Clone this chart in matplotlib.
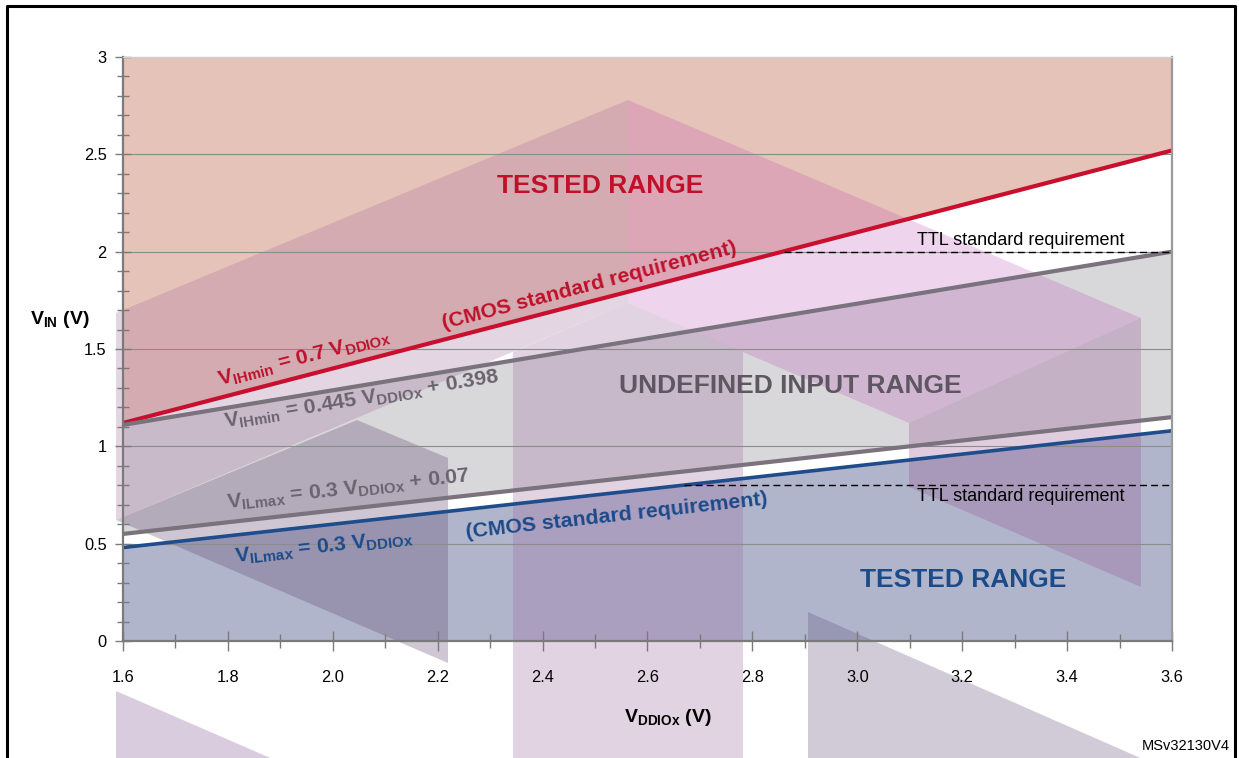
import matplotlib
matplotlib.use("Agg")
import matplotlib.pyplot as plt
from matplotlib.patches import Polygon
from matplotlib.lines import Line2D
import numpy as np

plt.rcParams['font.family'] = ['Liberation Sans', 'DejaVu Sans']
plt.rcParams['mathtext.fontset'] = 'custom'
plt.rcParams['mathtext.rm'] = 'Liberation Sans:bold'
plt.rcParams['mathtext.bf'] = 'Liberation Sans:bold'
plt.rcParams['mathtext.it'] = 'Liberation Sans:bold'

# VDDIOx range and the input threshold lines at both ends (V)
vdd = [1.6, 3.6]
vih_cmos = [1.12, 2.52]   # VIHmin = 0.7 VDDIOx
vih_io = [1.11, 2.00]     # VIHmin = 0.445 VDDIOx + 0.398
vil_io = [0.55, 1.15]     # VILmax = 0.3 VDDIOx + 0.07
vil_cmos = [0.48, 1.08]   # VILmax = 0.3 VDDIOx
ttl_levels = [2.0, 0.8]
ttl_start = [2.86, 2.67]

yticks = [0, 0.5, 1, 1.5, 2, 2.5, 3]
ytick_labels = ["0", "0.5", "1", "1.5", "2", "2.5", "3"]
xticks = [1.6, 1.8, 2.0, 2.2, 2.4, 2.6, 2.8, 3.0, 3.2, 3.4, 3.6]
xtick_labels = ["1.6", "1.8", "2.0", "2.2", "2.4", "2.6", "2.8", "3.0", "3.2", "3.4", "3.6"]

W, H = 1239, 758
fig = plt.figure(figsize=(W / 100, H / 100), dpi=100)
ax = fig.add_axes([123 / W, 1 - 641 / H, (1172 - 123) / W, (641 - 57) / H])
ax.set_xlim(1.6, 3.6)
ax.set_ylim(0, 3)

red = "#c8102e"
grey_line = "#7a727c"
blue = "#1f4d8c"

# coloured ranges
ax.fill_between(vdd, vih_cmos, [3, 3], color="#e6c3b8", lw=0, zorder=1)
ax.fill_between(vdd, vil_io, vih_io, color="#d8d8da", lw=0, zorder=1)
ax.fill_between(vdd, [0, 0], vil_cmos, color="#b1b5cc", lw=0, zorder=1)

# faint logo watermark (pixel outlines, figure space)
def px(points):
    return [(x / W, 1 - y / H) for x, y in points]

watermark = [
    ([(116, 313), (628, 100), (628, 303), (116, 520)], (168, 118, 162), 0.30),
    ([(628, 100), (1141, 318), (909, 423), (628, 303)], (190, 72, 181), 0.23),
    ([(513, 352), (628, 303), (743, 352), (743, 760), (513, 760)], (160, 110, 165), 0.30),
    ([(116, 520), (357, 420), (448, 458), (448, 663)], (95, 70, 110), 0.30),
    ([(909, 423), (1141, 318), (1141, 587), (909, 487)], (150, 90, 150), 0.30),
    ([(808, 612), (1145, 760), (808, 760)], (100, 85, 125), 0.30),
    ([(116, 691), (275, 760), (116, 760)], (150, 110, 165), 0.35),
]
for pts, rgb, a in watermark:
    ax.add_patch(Polygon(px(pts), closed=True, transform=fig.transFigure,
                         facecolor=[c / 255 for c in rgb], alpha=a, lw=0,
                         clip_on=False, zorder=1.5))

# threshold lines
ax.plot(vdd, vih_cmos, color=red, lw=3, zorder=2, solid_capstyle="butt")
ax.plot(vdd, vih_io, color=grey_line, lw=3, zorder=2, solid_capstyle="butt")
ax.plot(vdd, vil_io, color=grey_line, lw=3, zorder=2, solid_capstyle="butt")
ax.plot(vdd, vil_cmos, color=blue, lw=2.6, zorder=2, solid_capstyle="butt")
for lvl, x0 in zip(ttl_levels, ttl_start):
    ax.plot([x0, 3.6], [lvl, lvl], color="black", lw=1, ls=(0, (5, 3)), zorder=2.2)

# axes styling
for s in ["left", "bottom"]:
    ax.spines[s].set_color("#7a7a7a")
    ax.spines[s].set_linewidth(1.6)
ax.spines["right"].set_color("#9a9a9a")
ax.spines["right"].set_linewidth(1.6)
ax.spines["top"].set_color("#d0d0d0")
ax.spines["top"].set_linewidth(1)

ax.set_yticks(yticks)
ax.set_yticklabels(ytick_labels)
ax.set_xticks(xticks)
ax.set_xticklabels(xtick_labels)
ax.set_yticks(np.arange(0, 3.01, 0.1), minor=True)
ax.set_xticks(np.arange(1.6, 3.61, 0.1), minor=True)
ax.tick_params(axis="both", which="both", direction="inout", color="#7a7a7a",
               width=1.0, labelsize=11.8)
ax.tick_params(axis="y", which="major", length=11.5, pad=6)
ax.tick_params(axis="y", which="minor", length=8.6)
ax.tick_params(axis="x", which="major", length=13.7, pad=14)
ax.tick_params(axis="x", which="minor", length=9.4)
ax.yaxis.grid(True, which="major", color="#8c8c8c", lw=0.8)
ax.xaxis.set_zorder(1.8)
ax.yaxis.set_zorder(1.8)

# line labels, rotated along each line
def along(x, ys, dy, text, color):
    slope = (ys[1] - ys[0]) / (vdd[1] - vdd[0])
    ax.text(x, np.interp(x, vdd, ys) + dy, text, color=color, fontsize=15.3,
            fontweight="bold", rotation=np.degrees(np.arctan(slope)),
            transform_rotates_text=True, rotation_mode="anchor",
            ha="left", va="baseline", zorder=3)

along(1.785, vih_cmos, 0.06, r"V$_\mathrm{IHmin}$ = 0.7 V$_\mathrm{DDIOx}$", "#c0102a")
along(2.212, vih_cmos, 0.055, "(CMOS standard requirement)", "#c0102a")
along(1.795, vih_io, -0.1, r"V$_\mathrm{IHmin}$ = 0.445 V$_\mathrm{DDIOx}$ + 0.398", "#6b6370")
along(1.8, vil_io, 0.07, r"V$_\mathrm{ILmax}$ = 0.3 V$_\mathrm{DDIOx}$ + 0.07", "#6b6370")
along(1.815, vil_cmos, -0.14, r"V$_\mathrm{ILmax}$ = 0.3 V$_\mathrm{DDIOx}$", "#1c4b8a")
along(2.255, vil_cmos, -0.145, "(CMOS standard requirement)", "#1c4b8a")

ax.text(2.509, 2.337, "TESTED RANGE", color="#c0102a", fontsize=19,
        fontweight="bold", ha="center", va="center", zorder=3)
ax.text(2.872, 1.31, "UNDEFINED INPUT RANGE", color="#5e5660", fontsize=19,
        fontweight="bold", ha="center", va="center", zorder=3)
ax.text(3.2015, 0.313, "TESTED RANGE", color="#1c4b8a", fontsize=19,
        fontweight="bold", ha="center", va="center", zorder=3)

ax.text(3.51, ttl_levels[0] + 0.012, "TTL standard requirement", fontsize=13,
        ha="right", va="bottom", zorder=3)
ax.text(3.51, ttl_levels[1] - 0.012, "TTL standard requirement", fontsize=13,
        ha="right", va="top", zorder=3)

fig.text(30 / W, 1 - 320 / H, r"V$_\mathrm{IN}$ (V)", fontsize=14,
         fontweight="bold", ha="left", va="center")
fig.text(668 / W, 1 - 717 / H, r"V$_\mathrm{DDIOx}$ (V)", fontsize=14,
         fontweight="bold", ha="center", va="center")
fig.text(1230 / W, 1 - 746 / H, "MSv32130V4", fontsize=10.5,
         ha="right", va="center")

# figure frame (open at the bottom)
fx = [7 / W, 7 / W, 1235 / W, 1235 / W]
fy = [0, 1 - 6 / H, 1 - 6 / H, 0]
fig.add_artist(Line2D(fx, fy, color="black", lw=2.2, transform=fig.transFigure))

fig.savefig("out.png", dpi=100)
